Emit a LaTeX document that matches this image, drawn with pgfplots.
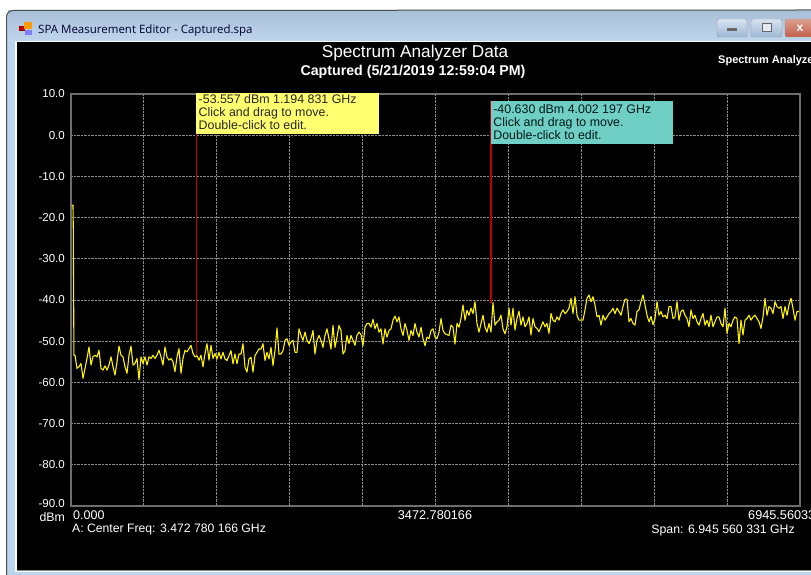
\documentclass[border=0pt]{standalone}
\usepackage{pgfplots}
\usepackage{pgfplotstable}
\usepackage{fontspec}
\setmainfont{Liberation Sans}
\newfontfamily\uifont{Open Sans}
\pgfplotsset{compat=1.18}
\definecolor{framegray}{HTML}{6E6E6E}
\definecolor{gridgray}{HTML}{8A8A8A}
\definecolor{winblue}{HTML}{BCD5EE}
\definecolor{titletop}{HTML}{A8BFD8}
\definecolor{titlebot}{HTML}{C0D6EC}
\definecolor{noteyellow}{HTML}{FFFF70}
\definecolor{noteteal}{HTML}{6FCFC4}
\definecolor{mkred}{HTML}{C00000}
\definecolor{btnblue}{HTML}{9DB8D6}
\definecolor{btnred}{HTML}{C4604A}
\pgfplotstableread{
dbm
-17
-22.8
-53.4
-56.6
-56.2
-55.4
-59
-56.6
-54.2
-51.4
-55.8
-53.8
-53.4
-53.8
-52.2
-56.6
-57
-56
-57
-55.8
-53.8
-56.2
-58.2
-55
-51.2
-53.4
-53.8
-56.2
-57.8
-53.4
-51.2
-55.8
-55.4
-54.2
-59.4
-53.8
-55.4
-53.8
-55.8
-53.8
-54.2
-53.4
-54.2
-53.4
-52.2
-53.8
-55.8
-51.4
-53.8
-54.6
-54.2
-55
-57.4
-53.8
-51.8
-57.8
-54.2
-52.2
-52.6
-51.8
-51
-53
-53.8
-53.557
-54.6
-53.4
-56.2
-53
-50.6
-54.6
-51
-54.2
-53
-54.3
-52.7
-54.3
-52.7
-54.3
-54.7
-53.5
-52.3
-55.5
-53.1
-55.5
-53.1
-53.1
-50.6
-56.3
-57.5
-54.3
-53.9
-57.5
-53.5
-52.7
-51.9
-51.9
-50.6
-54.7
-52.7
-54.3
-51.5
-55.9
-52.3
-46.8
-53.1
-53.1
-52.3
-49.8
-49.4
-51
-50.2
-49.8
-52.7
-52.7
-47
-48.6
-49.8
-47.8
-49.8
-50.6
-49.4
-47.4
-53.1
-49.8
-48.6
-49.8
-51.5
-48.6
-47
-49.4
-51.9
-46.2
-51.5
-49
-46.2
-47.4
-53.1
-52.3
-48.6
-50.6
-48.6
-49.8
-51
-48.6
-47.8
-48.4
-51.1
-46.6
-45.7
-45.7
-46.6
-44.7
-47
-45.7
-47.8
-47
-50.7
-47
-49
-47.4
-47
-44.9
-43.9
-45.3
-44.1
-47
-48.6
-45.7
-47.4
-49.8
-47.4
-48.6
-45.7
-47.8
-49
-46.6
-49.4
-51.1
-49
-49.4
-47.4
-47
-49
-49.4
-47.8
-44.5
-47.4
-48.2
-48.4
-48.6
-46.1
-46.6
-50.7
-45.7
-46.6
-44.5
-41.2
-44.9
-42.5
-43.7
-42
-43.3
-40.4
-45.7
-47.8
-45.7
-43.7
-46.6
-47.8
-45.7
-47.8
-40.63
-46.1
-45.3
-44.9
-43.7
-47
-48.2
-46.5
-42
-46.1
-42
-47.3
-44.5
-42.7
-46.1
-44.1
-46.5
-45.7
-44.1
-48.5
-44.5
-46.5
-46.9
-47.7
-46.5
-45.3
-46.5
-45.7
-48.1
-43.3
-44.9
-45.3
-44.1
-44.9
-43.3
-42.4
-43.3
-42.8
-42
-39.6
-43.3
-39.2
-43.7
-44.9
-44.9
-44.9
-42.4
-39.6
-38.8
-40.4
-39.2
-41.2
-44.1
-43.7
-46.1
-43.7
-44.9
-44.1
-43.3
-42.8
-42
-43.3
-42
-42.8
-43.7
-41.6
-39.8
-39.8
-45.3
-44.5
-45.7
-46.1
-42.8
-42.4
-40.4
-38.8
-41.2
-43.7
-45.3
-44
-46
-44.5
-40.4
-43.7
-42.8
-44.1
-43.7
-44.5
-41.6
-41.6
-44.5
-44.1
-40.4
-44.9
-42.8
-42.4
-43.7
-44.5
-46.5
-42.4
-44.5
-43.7
-45.3
-46.1
-44.5
-43.3
-46.1
-44.9
-46.5
-43.7
-46.5
-45.3
-44.1
-44.1
-45.7
-46.5
-42
-48.1
-45.7
-46.5
-44.9
-44.1
-44.5
-50.6
-44.9
-48.5
-44.9
-44.5
-43.7
-44.9
-44.1
-43.7
-44.5
-45.3
-46.9
-44.1
-39.6
-43.7
-41.6
-42
-43.3
-40.4
-41.6
-42
-41.6
-44.5
-41.6
-43.7
-41.2
-39.6
-42
-44.9
-42.8
-42.8
}\tracetable
\begin{document}
\begin{tikzpicture}[x=1pt,y=1pt]
\path[use as bounding box] (0,0) rectangle (811,575);
\fill[white] (0,0) rectangle (811,575);
% window chrome
\fill[winblue] (6,0) -- (6,558) arc (180:90:7) -- (811,565) -- (811,0) -- cycle;
\shade[top color=titletop,bottom color=titlebot] (8,533) rectangle (811,564.5);
\draw[black!70,line width=1pt] (6.5,0) -- (6.5,558) arc (180:90:6.5) -- (811,565);
\fill[white!92!winblue] (15,3) rectangle (811,534);
\fill[black] (17,5) rectangle (811,533);
\fill[black!45] (17,4.2) rectangle (811,5);
% title bar
\fill[red!70!black] (19,544) rectangle (25,549);
\fill[orange!80!yellow] (24,546) rectangle (32,553);
\fill[blue!50!white] (25,540) rectangle (32,545);
\node[anchor=west,inner sep=0pt,text=black!80!blue,font=\uifont\fontsize{11.5}{13}\selectfont] at (38,544.5) {SPA Measurement Editor - Captured.spa};
\shade[top color=white!60!btnblue,bottom color=btnblue,rounded corners=2pt,draw=black!40] (717,538) rectangle (747,556);
\shade[top color=white!60!btnblue,bottom color=btnblue,rounded corners=2pt,draw=black!40] (751,538) rectangle (782,556);
\shade[top color=white!40!btnred,bottom color=btnred,rounded corners=2pt,draw=black!40] (785,538) rectangle (820,556);
\fill[black!60] (727,544) rectangle (737,547);
\draw[black!60,line width=1pt,fill=white!70!btnblue] (762,543) rectangle (771,551);
\node[font=\bfseries\fontsize{12}{13}\selectfont,text=white] at (800,547) {x};
% titles
\node[text=white,inner sep=0pt,font=\fontsize{17.2}{19}\selectfont] at (415,522) {Spectrum Analyzer Data};
\node[text=white,inner sep=0pt,font=\bfseries\fontsize{14.2}{16}\selectfont] at (413,503) {Captured (5/21/2019 12:59:04 PM)};
\node[text=white,anchor=west,inner sep=0pt,font=\bfseries\fontsize{11}{12}\selectfont] at (718,514) {Spectrum Analyzer Data};
% axis
\begin{axis}[
  at={(71pt,69pt)},anchor=south west,scale only axis,
  width=729pt,height=412pt,
  xmin=0,xmax=6945.56,ymin=-90,ymax=10,
  xtick={0,694.556,1389.112,2083.668,2778.224,3472.78,4167.336,4861.892,5556.448,6251.004,6945.56},
  xticklabels={},
  ytick={-80,-70,-60,-50,-40,-30,-20,-10,0,10},
  extra y ticks={-90},
  extra y tick style={grid=none,yticklabel style={yshift=2.5pt}},
  major tick length=0pt,
  grid=major,
  major grid style={gridgray,densely dotted,line width=0.9pt},
  axis line style={framegray,line width=1.4pt},
  yticklabel style={text=white,inner sep=0pt,xshift=-6pt,font=\fontsize{11.5}{13}\selectfont,
    /pgf/number format/fixed,/pgf/number format/fixed zerofill,/pgf/number format/precision=1,
    /pgf/number format/assume math mode=true},
]
\addplot[mkred,line width=1.3pt,forget plot] coordinates {(1194.831,-53.557) (1194.831,10)};
\addplot[mkred,line width=1.3pt,forget plot] coordinates {(4002.197,-40.63) (4002.197,8.4)};
\addplot[yellow,line width=1.1pt,line join=round,forget plot] coordinates {(7,-17) (19,-17) (22,-22.8) (28,-53.4) (38.11,-53.4)};
\addplot[yellow,line width=1.1pt,line join=round,skip coords between index={0}{2}] table[x expr=\coordindex*19.055,y=dbm] {\tracetable};
\fill[noteyellow] (axis cs:1194.831,10.8) rectangle (axis cs:2934,0.2);
\fill[noteteal] (axis cs:4002.197,8.4) rectangle (axis cs:5735,-2.2);
\node[anchor=north west,inner sep=0pt,align=left,text=black!85,font=\fontsize{12.4}{13.3}\selectfont] at (axis cs:1215,10.0) {-53.557 dBm 1.194 831 GHz\\Click and drag to move.\\Double-click to edit.};
\node[anchor=north west,inner sep=0pt,align=left,text=black!80!teal,font=\fontsize{12.4}{13.3}\selectfont] at (axis cs:4022,7.6) {-40.630 dBm 4.002 197 GHz\\Click and drag to move.\\Double-click to edit.};
\end{axis}
% below-axis labels
\node[text=white,anchor=east,inner sep=0pt,font=\fontsize{12.3}{13}\selectfont] at (65,58) {dBm};
\node[text=white,anchor=west,inner sep=0pt,font=\fontsize{12.5}{13}\selectfont] at (73,60) {0.000};
\node[text=white,inner sep=0pt,font=\fontsize{12.7}{13}\selectfont] at (435,60) {3472.780166};
\node[text=white,anchor=west,inner sep=0pt,font=\fontsize{12.7}{13}\selectfont] at (748,60) {6945.560331};
\node[text=white,anchor=west,inner sep=0pt,font=\fontsize{12.2}{13}\selectfont] at (72,45) {A: Center Freq: 3.472 780 166 GHz};
\node[text=white,anchor=east,inner sep=0pt,font=\fontsize{12.3}{13}\selectfont] at (795,45) {Span: 6.945 560 331 GHz};
\end{tikzpicture}
\end{document}
